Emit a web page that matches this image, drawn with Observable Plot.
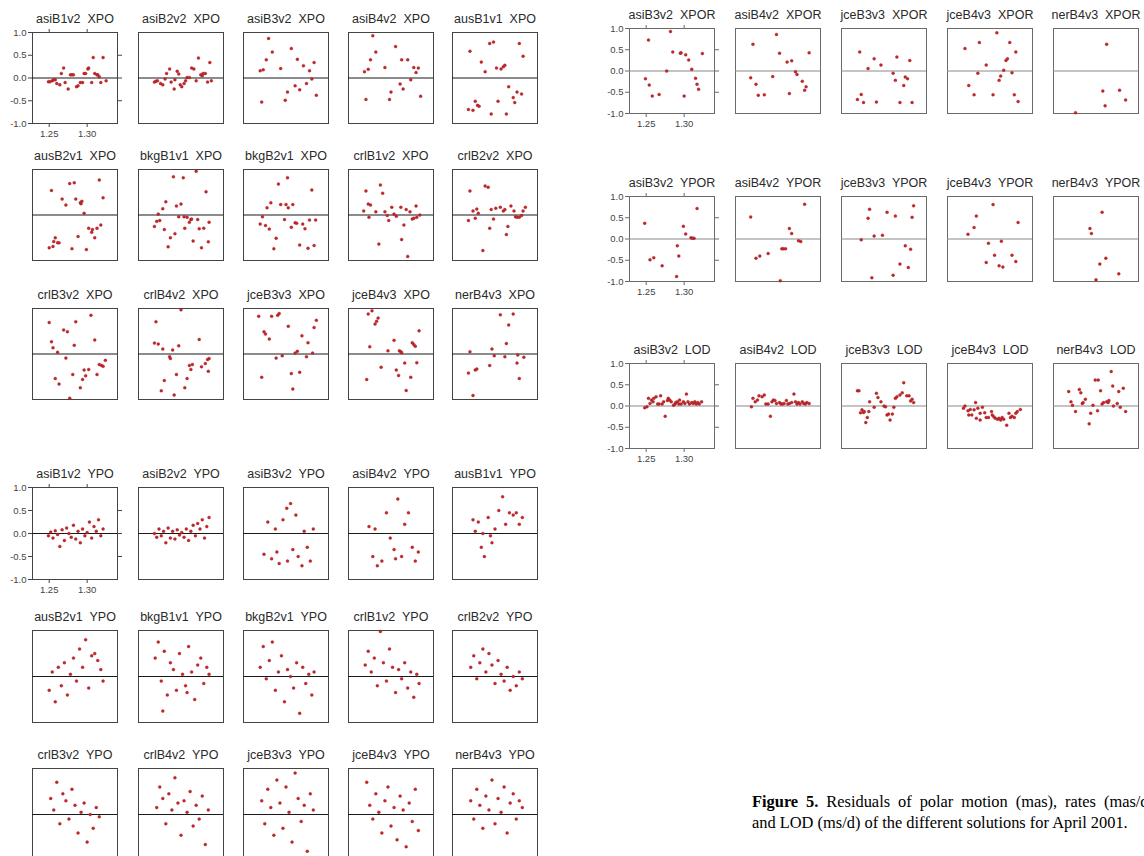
<!DOCTYPE html>
<html><head><meta charset="utf-8">
<script src="https://cdn.jsdelivr.net/npm/d3@7"></script>
<script src="https://cdn.jsdelivr.net/npm/@observablehq/plot@0.6"></script>
<style>
html,body{margin:0;padding:0;background:#fff;}
body{width:1144px;height:856px;overflow:hidden;position:relative;font-family:"Liberation Sans",Arial,sans-serif;}
svg text{white-space:pre;}
.cap{position:absolute;left:752px;font:16.4px/21px "Liberation Serif","Times New Roman",serif;color:#000;}
#cap1{top:791px;width:402px;text-align:justify;text-align-last:justify;}
#cap2{top:812px;white-space:nowrap;}
</style></head><body>
<div id="root"></div>
<div class="cap" id="cap1"><b>Figure 5.</b> Residuals of polar motion (mas), rates (mas/d)</div>
<div class="cap" id="cap2">and LOD (ms/d) of the different solutions for April 2001.</div>
<script>
// ---- axes ----
const xTicks = [1.25, 1.30];
const yTicks = [-1, -0.5, 0, 0.5, 1];
const xDomain = [1.228, 1.340];
const yDomain = [-1, 1];

// ---- XPO ----
const asiB1v2_XPO = [[1.249,-0.08],[1.251,-0.08],[1.254,-0.06],[1.256,-0.04],[1.258,-0.04],[1.260,-0.12],[1.264,-0.15],[1.266,0.10],[1.269,0.22],[1.271,-0.10],[1.275,-0.24],[1.278,0.07],[1.280,0.07],[1.282,0.07],[1.286,-0.19],[1.288,-0.17],[1.291,-0.10],[1.294,-0.10],[1.296,0.10],[1.298,0.10],[1.301,0.20],[1.302,0.22],[1.306,-0.10],[1.308,0.45],[1.310,0.10],[1.313,0.07],[1.314,0.07],[1.316,0.03],[1.318,-0.10],[1.321,0.45],[1.325,-0.06]];
const asiB2v2_XPO = [[1.249,-0.09],[1.251,-0.07],[1.253,-0.06],[1.257,-0.12],[1.260,-0.15],[1.263,-0.02],[1.265,0.10],[1.269,0.20],[1.271,-0.09],[1.275,-0.24],[1.276,-0.04],[1.279,0.15],[1.281,0.09],[1.283,-0.15],[1.285,-0.19],[1.288,-0.12],[1.290,-0.06],[1.292,0.01],[1.295,0.01],[1.298,0.22],[1.301,0.20],[1.304,-0.06],[1.307,0.44],[1.310,0.07],[1.312,0.05],[1.313,0.10],[1.316,0.10],[1.319,-0.09],[1.322,0.34],[1.324,-0.06]];
const asiB3v2_XPO = [[1.250,0.16],[1.252,-0.53],[1.254,0.18],[1.258,0.40],[1.261,0.87],[1.266,0.57],[1.277,0.21],[1.283,-0.49],[1.286,-0.31],[1.291,0.65],[1.296,-0.17],[1.299,0.41],[1.302,-0.26],[1.307,0.27],[1.311,-0.12],[1.315,0.16],[1.318,-0.02],[1.321,0.34],[1.324,-0.38]];
const asiB4v2_XPO = [[1.249,0.14],[1.251,-0.47],[1.254,0.19],[1.257,0.40],[1.260,0.93],[1.264,0.57],[1.276,0.23],[1.282,-0.47],[1.284,-0.31],[1.290,0.69],[1.296,-0.13],[1.298,0.40],[1.300,-0.24],[1.306,0.40],[1.310,-0.04],[1.314,0.23],[1.317,0.12],[1.320,0.22],[1.323,-0.40]];
const ausB1v1_XPO = [[1.249,-0.69],[1.251,0.59],[1.255,-0.71],[1.258,-0.51],[1.261,-0.60],[1.263,-0.62],[1.266,0.35],[1.271,0.14],[1.277,0.76],[1.279,-0.79],[1.282,0.79],[1.286,0.22],[1.288,-0.51],[1.292,0.20],[1.295,0.25],[1.297,0.28],[1.299,-0.79],[1.302,-0.19],[1.308,-0.43],[1.310,-0.54],[1.313,-0.31],[1.316,0.76],[1.319,-0.35],[1.321,0.48]];
const ausB2v1_XPO = [[1.250,-0.72],[1.253,0.54],[1.255,-0.69],[1.256,-0.58],[1.258,-0.50],[1.261,-0.61],[1.263,-0.61],[1.267,0.35],[1.272,0.22],[1.277,0.69],[1.280,-0.74],[1.283,0.71],[1.285,0.35],[1.288,-0.47],[1.291,0.27],[1.292,0.25],[1.293,0.30],[1.296,0.04],[1.299,-0.76],[1.302,-0.29],[1.306,-0.38],[1.307,-0.32],[1.310,-0.50],[1.313,-0.29],[1.316,0.77],[1.318,-0.22],[1.321,0.38]];
const bkgB1v1_XPO = [[1.249,-0.25],[1.252,-0.14],[1.254,0.02],[1.256,-0.12],[1.260,0.14],[1.262,-0.32],[1.264,0.29],[1.267,-0.70],[1.270,-0.50],[1.274,0.84],[1.276,-0.41],[1.278,0.20],[1.281,-0.04],[1.284,0.24],[1.287,0.82],[1.288,-0.04],[1.289,-0.29],[1.292,-0.05],[1.295,-0.16],[1.297,-0.10],[1.298,-0.09],[1.300,-0.57],[1.304,0.96],[1.306,-0.10],[1.308,-0.30],[1.311,-0.72],[1.314,-0.29],[1.317,0.51],[1.320,-0.59],[1.321,-0.16]];
const bkgB2v1_XPO = [[1.250,-0.20],[1.253,-0.04],[1.257,-0.23],[1.259,0.16],[1.262,-0.31],[1.264,0.27],[1.268,-0.74],[1.271,-0.51],[1.274,0.68],[1.277,0.23],[1.282,-0.10],[1.284,0.23],[1.286,0.82],[1.287,0.16],[1.291,-0.27],[1.293,0.23],[1.296,-0.17],[1.298,-0.18],[1.302,-0.66],[1.306,-0.20],[1.309,-0.30],[1.313,-0.73],[1.315,-0.11],[1.318,0.55],[1.321,-0.67],[1.323,-0.11]];
const crlB1v2_XPO = [[1.248,0.09],[1.251,0.53],[1.254,0.24],[1.255,-0.05],[1.257,0.22],[1.264,0.07],[1.268,-0.64],[1.270,0.66],[1.273,0.48],[1.276,0.07],[1.279,-0.01],[1.281,-0.12],[1.285,0.17],[1.288,0.02],[1.291,-0.03],[1.297,0.17],[1.298,-0.54],[1.301,-0.22],[1.304,0.12],[1.306,-0.91],[1.309,0.07],[1.312,-0.09],[1.314,-0.07],[1.317,0.20],[1.318,-0.05],[1.322,0.00]];
const crlB2v2_XPO = [[1.249,-0.12],[1.251,0.53],[1.255,0.09],[1.258,-0.07],[1.260,0.13],[1.262,0.04],[1.268,-0.78],[1.271,0.64],[1.275,0.61],[1.277,-0.29],[1.279,0.12],[1.282,-0.09],[1.285,0.15],[1.291,0.17],[1.295,0.09],[1.297,0.12],[1.299,-0.43],[1.301,-0.25],[1.305,0.20],[1.309,0.09],[1.311,-0.04],[1.313,-0.05],[1.316,-0.05],[1.319,-0.01],[1.321,0.09],[1.324,0.17]];
const crlB3v2_XPO = [[1.250,0.69],[1.253,0.27],[1.255,0.14],[1.258,-0.54],[1.261,0.04],[1.263,-0.66],[1.269,0.53],[1.272,-0.09],[1.274,0.49],[1.277,-0.97],[1.281,-0.45],[1.283,0.19],[1.285,0.71],[1.291,-0.74],[1.294,-0.56],[1.296,-0.35],[1.298,-0.48],[1.302,-0.34],[1.305,0.85],[1.310,0.31],[1.313,-0.45],[1.316,-0.23],[1.319,-0.25],[1.321,-0.27],[1.324,-0.14]];
const crlB4v2_XPO = [[1.249,0.24],[1.251,0.71],[1.254,0.22],[1.258,-0.81],[1.260,0.11],[1.262,-0.58],[1.269,-0.06],[1.270,-0.10],[1.273,0.09],[1.275,-0.90],[1.278,-0.45],[1.281,0.18],[1.284,0.97],[1.289,-0.74],[1.292,-0.54],[1.295,-0.25],[1.297,-0.34],[1.299,-0.23],[1.308,0.32],[1.311,-0.28],[1.316,-0.21],[1.319,-0.12],[1.320,-0.38],[1.321,-0.10]];
const jceB3v3_XPO = [[1.248,0.83],[1.252,-0.51],[1.255,0.49],[1.257,0.44],[1.262,0.33],[1.265,0.83],[1.271,-0.09],[1.273,0.85],[1.275,0.89],[1.279,-0.04],[1.287,0.61],[1.291,-0.43],[1.293,-0.77],[1.296,0.02],[1.299,0.06],[1.302,-0.40],[1.305,0.40],[1.311,-0.06],[1.313,0.25],[1.319,0.02],[1.321,0.58],[1.324,0.74]];
const jceB4v3_XPO = [[1.252,-0.56],[1.254,0.88],[1.256,0.16],[1.259,0.95],[1.263,0.66],[1.265,0.72],[1.267,0.79],[1.271,-0.29],[1.280,0.07],[1.288,0.30],[1.291,-0.35],[1.294,-0.47],[1.295,0.07],[1.297,0.05],[1.298,0.03],[1.302,-0.20],[1.304,-0.80],[1.310,-0.51],[1.312,0.25],[1.314,0.21],[1.316,0.17],[1.318,-0.19],[1.321,0.51]];
const nerB4v3_XPO = [[1.249,-0.42],[1.251,0.05],[1.255,-0.91],[1.258,-0.35],[1.260,-0.33],[1.277,-0.25],[1.280,0.11],[1.283,-0.04],[1.291,0.86],[1.297,-0.06],[1.299,0.23],[1.302,0.64],[1.308,0.88],[1.313,-0.20],[1.314,-0.02],[1.316,-0.54],[1.322,-0.07]];

// ---- YPO ----
const asiB1v2_YPO = [[1.249,-0.05],[1.252,0.03],[1.255,-0.10],[1.258,0.06],[1.261,-0.02],[1.264,-0.28],[1.267,0.08],[1.270,-0.15],[1.273,0.12],[1.276,0.00],[1.279,-0.08],[1.282,0.18],[1.285,-0.12],[1.288,0.05],[1.291,-0.20],[1.294,0.10],[1.297,-0.05],[1.300,0.02],[1.303,0.25],[1.306,-0.10],[1.309,0.15],[1.312,0.05],[1.315,0.30],[1.318,-0.05],[1.321,0.10]];
const asiB2v2_YPO = [[1.249,0.00],[1.252,-0.08],[1.255,0.10],[1.258,-0.05],[1.261,0.05],[1.264,-0.20],[1.267,0.12],[1.270,-0.10],[1.273,0.05],[1.276,-0.12],[1.279,0.08],[1.282,-0.03],[1.285,0.02],[1.288,-0.08],[1.291,0.10],[1.294,-0.15],[1.297,0.05],[1.300,0.18],[1.303,-0.05],[1.306,0.22],[1.309,0.10],[1.312,0.30],[1.315,-0.10],[1.318,0.15],[1.321,0.35]];
const asiB3v2_YPO = [[1.255,-0.45],[1.260,0.25],[1.265,-0.55],[1.270,0.10],[1.275,-0.65],[1.280,0.30],[1.285,0.55],[1.290,0.65],[1.293,-0.35],[1.297,0.40],[1.300,-0.50],[1.305,-0.70],[1.308,0.05],[1.312,-0.30],[1.316,-0.60],[1.320,0.10],[1.286,-0.60],[1.272,-0.40]];
const asiB4v2_YPO = [[1.255,0.15],[1.260,-0.50],[1.266,-0.70],[1.272,-0.60],[1.278,0.45],[1.283,-0.10],[1.288,-0.35],[1.293,0.75],[1.298,-0.50],[1.302,0.20],[1.307,0.45],[1.312,-0.30],[1.316,-0.60],[1.320,-0.40],[1.263,0.10],[1.290,-0.55]];
const ausB1v1_YPO = [[1.255,0.30],[1.258,0.05],[1.262,0.25],[1.266,-0.30],[1.270,-0.50],[1.275,0.35],[1.280,-0.20],[1.284,0.10],[1.289,0.50],[1.294,0.80],[1.298,0.20],[1.303,0.45],[1.308,0.40],[1.312,0.45],[1.316,0.20],[1.320,0.35],[1.278,-0.05],[1.268,0.00]];
const ausB2v1_YPO = [[1.250,-0.30],[1.254,0.10],[1.258,-0.55],[1.262,0.20],[1.266,-0.20],[1.270,0.30],[1.274,-0.40],[1.278,0.05],[1.282,0.40],[1.286,-0.10],[1.290,0.60],[1.294,0.20],[1.298,0.80],[1.302,-0.25],[1.306,0.45],[1.310,0.50],[1.314,0.35],[1.318,0.15],[1.321,-0.10]];
const bkgB1v1_YPO = [[1.250,0.40],[1.254,0.75],[1.258,-0.10],[1.262,0.55],[1.266,-0.40],[1.270,0.30],[1.274,0.15],[1.278,-0.30],[1.282,0.50],[1.286,0.05],[1.290,-0.20],[1.294,0.65],[1.298,0.10],[1.302,-0.50],[1.306,0.25],[1.310,0.40],[1.314,-0.15],[1.318,0.20],[1.321,0.05],[1.260,-0.75],[1.292,-0.35]];
const bkgB2v1_YPO = [[1.250,0.20],[1.254,0.65],[1.258,-0.05],[1.262,0.35],[1.266,0.75],[1.270,-0.30],[1.274,0.10],[1.278,0.45],[1.282,-0.55],[1.286,0.15],[1.290,0.00],[1.294,-0.25],[1.298,0.30],[1.302,-0.80],[1.306,0.20],[1.310,-0.15],[1.314,0.05],[1.318,-0.40],[1.321,0.10]];
const crlB1v2_YPO = [[1.250,0.25],[1.254,0.55],[1.258,0.10],[1.262,0.40],[1.266,-0.20],[1.270,0.98],[1.274,0.30],[1.278,-0.10],[1.282,0.60],[1.286,0.20],[1.290,-0.35],[1.294,0.15],[1.298,-0.05],[1.302,0.30],[1.306,-0.25],[1.310,0.10],[1.314,-0.45],[1.318,0.05],[1.321,-0.15]];
const crlB2v2_YPO = [[1.252,0.20],[1.256,0.45],[1.260,-0.05],[1.264,0.30],[1.268,0.60],[1.272,0.10],[1.276,0.50],[1.280,0.25],[1.284,-0.15],[1.288,0.35],[1.292,0.05],[1.296,-0.10],[1.300,0.20],[1.304,-0.30],[1.308,0.00],[1.312,-0.20],[1.316,0.10],[1.320,-0.05]];
const crlB3v2_YPO = [[1.252,0.35],[1.256,0.10],[1.260,0.70],[1.264,-0.20],[1.268,0.45],[1.272,0.30],[1.276,-0.10],[1.280,0.55],[1.284,0.20],[1.288,-0.40],[1.292,0.05],[1.296,0.25],[1.300,-0.60],[1.304,0.00],[1.308,-0.30],[1.312,0.15],[1.316,-0.05]];
const crlB4v2_YPO = [[1.252,0.15],[1.256,0.60],[1.260,0.35],[1.264,-0.20],[1.268,0.45],[1.272,0.10],[1.276,0.80],[1.280,0.25],[1.284,-0.45],[1.288,0.30],[1.292,0.05],[1.296,0.50],[1.300,-0.25],[1.304,0.20],[1.308,-0.10],[1.312,0.40],[1.316,-0.65],[1.320,0.10]];
const jceB3v3_YPO = [[1.252,0.30],[1.256,-0.20],[1.260,0.55],[1.264,0.15],[1.268,-0.45],[1.272,0.75],[1.276,0.25],[1.280,-0.30],[1.284,0.60],[1.288,0.05],[1.292,-0.60],[1.296,0.90],[1.300,0.35],[1.304,-0.15],[1.308,0.20],[1.312,-0.80],[1.316,0.45],[1.320,0.10]];
const jceB4v3_YPO = [[1.252,0.70],[1.256,0.20],[1.260,-0.10],[1.264,0.45],[1.268,0.05],[1.272,-0.40],[1.276,0.30],[1.280,0.60],[1.284,-0.25],[1.288,0.15],[1.292,-0.55],[1.296,0.40],[1.300,0.10],[1.304,-0.70],[1.308,0.25],[1.312,-0.15],[1.316,0.55],[1.320,-0.35]];
const nerB4v3_YPO = [[1.252,0.30],[1.256,-0.10],[1.260,0.55],[1.264,0.20],[1.268,-0.30],[1.272,0.40],[1.276,0.10],[1.280,0.75],[1.284,-0.20],[1.288,0.35],[1.292,0.05],[1.296,0.60],[1.300,-0.40],[1.304,0.25],[1.308,0.45],[1.312,-0.10],[1.316,0.30],[1.320,0.15]];

// ---- XPOR / YPOR / LOD ----
const asiB3v2_XPOR = [[1.249,-0.18],[1.253,0.73],[1.254,-0.33],[1.258,-0.59],[1.267,-0.55],[1.277,0.00],[1.282,0.93],[1.285,0.45],[1.295,0.42],[1.296,0.43],[1.300,-0.59],[1.302,0.38],[1.306,0.26],[1.310,0.04],[1.315,-0.17],[1.317,-0.31],[1.319,-0.43],[1.324,0.41]];
const asiB4v2_XPOR = [[1.248,-0.16],[1.251,0.63],[1.255,-0.31],[1.258,-0.57],[1.266,-0.56],[1.277,-0.13],[1.282,0.86],[1.286,0.42],[1.296,0.21],[1.299,-0.53],[1.302,0.24],[1.307,-0.02],[1.309,-0.08],[1.316,-0.24],[1.319,-0.45],[1.321,-0.37],[1.325,0.43]];
const jceB3v3_XPOR = [[1.249,-0.67],[1.252,0.45],[1.254,-0.55],[1.257,-0.74],[1.263,0.06],[1.271,0.29],[1.274,-0.73],[1.280,0.14],[1.296,-0.05],[1.299,-0.22],[1.301,0.33],[1.305,-0.74],[1.310,-0.34],[1.312,-0.14],[1.315,-0.18],[1.318,0.25],[1.321,-0.74]];
const jceB4v3_XPOR = [[1.251,0.53],[1.256,-0.34],[1.263,-0.56],[1.268,-0.05],[1.270,0.67],[1.279,0.14],[1.288,-0.56],[1.293,0.90],[1.296,-0.22],[1.298,-0.12],[1.302,0.02],[1.305,0.25],[1.307,0.29],[1.310,0.67],[1.313,-0.04],[1.316,-0.56],[1.318,0.45],[1.321,-0.72]];
const nerB4v3_XPOR = [[1.257,-0.98],[1.293,-0.47],[1.296,-0.82],[1.298,0.63],[1.315,-0.45],[1.323,-0.68]];
const asiB3v2_YPOR = [[1.248,0.37],[1.255,-0.49],[1.260,-0.44],[1.271,-0.63],[1.290,-0.88],[1.291,-0.16],[1.293,-0.40],[1.299,0.30],[1.302,0.12],[1.309,0.03],[1.311,0.02],[1.313,0.02],[1.317,0.72]];
const asiB4v2_YPOR = [[1.248,0.52],[1.255,-0.45],[1.260,-0.40],[1.271,-0.34],[1.287,-0.98],[1.289,-0.23],[1.291,-0.23],[1.294,-0.23],[1.299,0.25],[1.302,0.13],[1.311,-0.04],[1.314,-0.06],[1.319,0.82]];
const jceB3v3_YPOR = [[1.254,-0.02],[1.263,0.49],[1.265,0.70],[1.268,-0.91],[1.271,0.07],[1.282,0.09],[1.288,0.63],[1.296,-0.85],[1.299,0.54],[1.305,-0.59],[1.312,-0.16],[1.316,-0.67],[1.319,-0.24],[1.321,0.51],[1.323,0.78]];
const jceB4v3_YPOR = [[1.255,0.11],[1.263,0.27],[1.266,0.54],[1.279,-0.55],[1.282,-0.10],[1.288,0.81],[1.290,-0.38],[1.296,-0.63],[1.299,-0.05],[1.301,-0.66],[1.313,-0.38],[1.318,-0.53],[1.321,0.39]];
const nerB4v3_YPOR = [[1.276,0.25],[1.278,0.13],[1.284,-0.96],[1.289,-0.59],[1.292,0.63],[1.297,-0.45],[1.314,-0.82]];
const asiB3v2_LOD = [[1.248,-0.04],[1.251,-0.02],[1.253,0.18],[1.255,0.06],[1.257,0.14],[1.259,0.10],[1.260,0.18],[1.263,0.22],[1.265,0.05],[1.267,0.05],[1.269,0.24],[1.271,0.05],[1.273,0.10],[1.275,-0.24],[1.278,0.13],[1.279,0.18],[1.281,0.14],[1.283,0.10],[1.286,0.02],[1.288,0.05],[1.289,0.08],[1.291,0.10],[1.293,0.05],[1.294,0.14],[1.296,0.05],[1.299,0.10],[1.301,0.06],[1.303,0.28],[1.305,0.10],[1.307,0.05],[1.310,0.08],[1.312,0.06],[1.314,0.10],[1.316,0.05],[1.318,0.08],[1.320,0.05],[1.323,0.10]];
const asiB4v2_LOD = [[1.249,-0.02],[1.251,0.18],[1.254,0.10],[1.257,0.14],[1.259,0.24],[1.263,0.22],[1.266,0.26],[1.268,0.05],[1.271,0.05],[1.274,-0.24],[1.276,0.10],[1.278,0.14],[1.280,0.13],[1.282,0.06],[1.286,0.08],[1.288,0.05],[1.290,0.05],[1.292,0.06],[1.295,0.13],[1.297,0.05],[1.299,0.06],[1.302,0.08],[1.305,0.28],[1.307,0.10],[1.309,0.05],[1.311,0.08],[1.313,0.05],[1.316,0.10],[1.318,0.06],[1.320,0.05],[1.322,0.08],[1.325,0.06]];
const jceB3v3_LOD = [[1.249,0.36],[1.251,0.36],[1.253,-0.16],[1.255,-0.09],[1.257,-0.15],[1.258,-0.13],[1.260,-0.39],[1.262,-0.27],[1.264,-0.13],[1.265,0.10],[1.271,-0.03],[1.274,0.30],[1.276,0.20],[1.280,0.10],[1.284,0.00],[1.286,-0.02],[1.288,-0.21],[1.290,-0.19],[1.292,-0.33],[1.295,-0.19],[1.297,-0.03],[1.299,0.18],[1.301,0.22],[1.305,0.26],[1.308,0.31],[1.310,0.55],[1.314,0.24],[1.317,0.24],[1.319,0.12],[1.321,0.16],[1.323,0.08]];
const jceB4v3_LOD = [[1.249,-0.05],[1.251,0.00],[1.255,-0.11],[1.256,-0.21],[1.258,-0.08],[1.260,-0.21],[1.263,-0.09],[1.265,0.08],[1.266,-0.29],[1.268,-0.05],[1.271,-0.17],[1.271,-0.33],[1.274,-0.03],[1.277,-0.16],[1.279,-0.27],[1.282,-0.27],[1.286,-0.13],[1.287,-0.21],[1.289,-0.25],[1.291,-0.29],[1.294,-0.31],[1.296,-0.29],[1.298,-0.33],[1.300,-0.27],[1.302,-0.31],[1.306,-0.45],[1.309,-0.17],[1.311,-0.27],[1.313,-0.24],[1.316,-0.27],[1.318,-0.17],[1.320,-0.13],[1.324,-0.08]];
const nerB4v3_LOD = [[1.248,0.34],[1.251,0.10],[1.253,0.02],[1.257,-0.13],[1.262,0.39],[1.264,0.31],[1.266,0.06],[1.267,0.08],[1.270,0.16],[1.275,-0.42],[1.277,-0.17],[1.280,0.02],[1.283,0.61],[1.286,-0.11],[1.287,0.61],[1.290,0.36],[1.292,0.05],[1.294,0.08],[1.298,0.10],[1.300,0.08],[1.301,0.13],[1.304,0.81],[1.306,0.47],[1.307,0.00],[1.312,0.06],[1.314,0.34],[1.316,-0.03],[1.320,0.42],[1.323,-0.13]];

// ---- panel lists (titles + data) ----
const xpoTitles = ["asiB1v2  XPO","asiB2v2  XPO","asiB3v2  XPO","asiB4v2  XPO","ausB1v1  XPO","ausB2v1  XPO","bkgB1v1  XPO","bkgB2v1  XPO","crlB1v2  XPO","crlB2v2  XPO","crlB3v2  XPO","crlB4v2  XPO","jceB3v3  XPO","jceB4v3  XPO","nerB4v3  XPO"];
const xpoSeries = [asiB1v2_XPO,asiB2v2_XPO,asiB3v2_XPO,asiB4v2_XPO,ausB1v1_XPO,ausB2v1_XPO,bkgB1v1_XPO,bkgB2v1_XPO,crlB1v2_XPO,crlB2v2_XPO,crlB3v2_XPO,crlB4v2_XPO,jceB3v3_XPO,jceB4v3_XPO,nerB4v3_XPO];
const ypoTitles = ["asiB1v2  YPO","asiB2v2  YPO","asiB3v2  YPO","asiB4v2  YPO","ausB1v1  YPO","ausB2v1  YPO","bkgB1v1  YPO","bkgB2v1  YPO","crlB1v2  YPO","crlB2v2  YPO","crlB3v2  YPO","crlB4v2  YPO","jceB3v3  YPO","jceB4v3  YPO","nerB4v3  YPO"];
const ypoSeries = [asiB1v2_YPO,asiB2v2_YPO,asiB3v2_YPO,asiB4v2_YPO,ausB1v1_YPO,ausB2v1_YPO,bkgB1v1_YPO,bkgB2v1_YPO,crlB1v2_YPO,crlB2v2_YPO,crlB3v2_YPO,crlB4v2_YPO,jceB3v3_YPO,jceB4v3_YPO,nerB4v3_YPO];
const rateTitles = ["asiB3v2  XPOR","asiB4v2  XPOR","jceB3v3  XPOR","jceB4v3  XPOR","nerB4v3  XPOR","asiB3v2  YPOR","asiB4v2  YPOR","jceB3v3  YPOR","jceB4v3  YPOR","nerB4v3  YPOR","asiB3v2  LOD","asiB4v2  LOD","jceB3v3  LOD","jceB4v3  LOD","nerB4v3  LOD"];
const rateSeries = [asiB3v2_XPOR,asiB4v2_XPOR,jceB3v3_XPOR,jceB4v3_XPOR,nerB4v3_XPOR,asiB3v2_YPOR,asiB4v2_YPOR,jceB3v3_YPOR,jceB4v3_YPOR,nerB4v3_YPOR,asiB3v2_LOD,asiB4v2_LOD,jceB3v3_LOD,jceB4v3_LOD,nerB4v3_LOD];

const root = document.getElementById("root");
const ML = 34, MR = 14, MT = 24, MB = 26;

function panel(title, pts, left, top, w, h, first, style) {
  const marks = [
    Plot.frame({stroke: style.frame, strokeWidth: 1}),
    Plot.ruleY([0], {stroke: style.zero, strokeWidth: 1.1}),
    Plot.dot(pts, {x: d => d[0], y: d => d[1], r: 1.5, fill: "#c8262a", stroke: "#8a1418", strokeWidth: 0.3}),
    Plot.text([title], {frameAnchor: "top", dy: -10, lineAnchor: "bottom", fontSize: 12.5, fill: "#2a2a2a"})
  ];
  if (first) {
    marks.push(Plot.axisY(yTicks, {anchor: "left", tickSize: 4, tickPadding: 2, fontSize: 9.5, fill: "#444", stroke: style.frame, tickFormat: d => d.toFixed(1), label: null}));
    marks.push(Plot.axisY([-0.5, 0, 0.5], {anchor: "right", tickSize: 4, stroke: style.frame, tickFormat: () => "", label: null}));
    marks.push(Plot.axisX(xTicks, {anchor: "bottom", tickSize: 4, tickPadding: 3, fontSize: 9.5, fill: "#444", stroke: style.frame, tickFormat: d => d.toFixed(2), label: null}));
    marks.push(Plot.axisX(xTicks, {anchor: "top", tickSize: 4, stroke: style.frame, tickFormat: () => "", label: null}));
  }
  const svg = Plot.plot({
    width: ML + w + MR, height: MT + h + MB,
    marginLeft: ML, marginRight: MR, marginTop: MT, marginBottom: MB,
    x: {domain: xDomain, axis: null},
    y: {domain: yDomain, axis: null},
    style: {background: "transparent", overflow: "visible", fontFamily: "'Liberation Sans', Arial, sans-serif"},
    marks
  });
  svg.style.position = "absolute";
  svg.style.left = (left - ML) + "px";
  svg.style.top = (top - MT) + "px";
  root.appendChild(svg);
}

const leftCols = [32, 138, 243, 348, 452];
const rightCols = [629, 735, 841, 947, 1053];
const xpoRows = [32, 169, 308];
const ypoRows = [487, 630, 768];
const rateRows = [28, 196, 363];
const leftStyle = {frame: "#444", zero: "#1a1a1a"};
const rightStyle = {frame: "#6a6a6a", zero: "#8a8a8a"};

xpoTitles.forEach((t, i) => panel(t, xpoSeries[i], leftCols[i % 5], xpoRows[Math.floor(i / 5)], 85, 91, i === 0, leftStyle));
ypoTitles.forEach((t, i) => panel(t, ypoSeries[i], leftCols[i % 5], ypoRows[Math.floor(i / 5)], 85, 92, i === 0, leftStyle));
rateTitles.forEach((t, i) => panel(t, rateSeries[i], rightCols[i % 5], rateRows[Math.floor(i / 5)], 85, 85, i % 5 === 0, rightStyle));
</script>
</body></html>
